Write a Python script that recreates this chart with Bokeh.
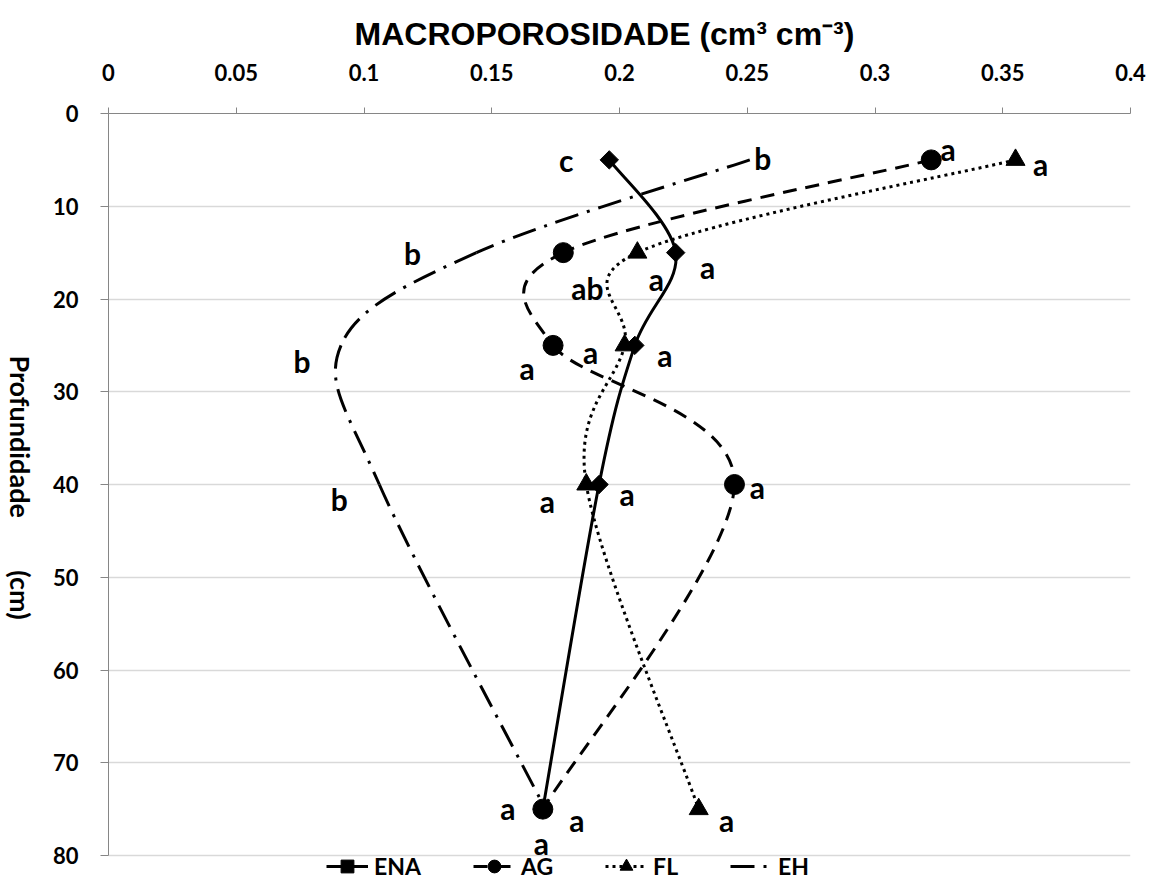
import numpy as np
from bokeh.plotting import figure
from bokeh.layouts import row
from bokeh.models import Range1d, FixedTicker, Legend, LegendItem, ColumnDataSource, Label
from bokeh.core.properties import value
from bokeh.embed import file_html
from bokeh.resources import INLINE

# ---- data ----
depth = [5, 15, 25, 40, 75]
ENA = [0.196, 0.222, 0.206, 0.192, 0.170]
AG = [0.322, 0.178, 0.174, 0.245, 0.170]
FL = [0.355, 0.207, 0.202, 0.187, 0.231]
EH = [0.251, 0.144, 0.091, 0.106, 0.171]

ENA_letters = ["c", "a", "a", "a", "a"]
AG_letters = ["a", "ab", "a", "a", "a"]
FL_letters = ["a", "a", "a", "a", "a"]
EH_letters = ["b", "b", "b", "b", "a"]

x_ticks = [0, 0.05, 0.1, 0.15, 0.2, 0.25, 0.3, 0.35, 0.4]
x_tick_labels = ["0", "0.05", "0.1", "0.15", "0.2", "0.25", "0.3", "0.35", "0.4"]
y_ticks = [0, 10, 20, 30, 40, 50, 60, 70, 80]
y_max = 80

title_text = "MACROPOROSIDADE (cm\u00b3 cm\u207b\u00b3)"
ylabel_text = "Profundidade\u00a0\u00a0\u00a0\u00a0\u00a0\u00a0\u00a0\u00a0(cm)"

# ---- layout / styles ----
FIG_H = 882
LAB_W = 38
MAIN_W = 1111
TOP = 113
LEGEND_PAD = 27  # px of frame kept below the 80 line for the legend
frame_h = FIG_H - TOP
y_start = y_max * frame_h / (frame_h - LEGEND_PAD)

label_offsets = {
    "ENA": [(-43, 0), (32, 14), (30, 10), (28, 9), (34, 11)],
    "AG": [(17, -11), (24, 35), (-26, 23), (23, 2), (-35, -1)],
    "FL": [(25, 4), (19, 26), (-34, 7), (-39, 16), (28, 11)],
    "EH": [(13, -2), (-64, 0), (-39, 16), (-40, 14), (-4, 34)],
}

p = figure(width=MAIN_W, height=FIG_H, output_backend="svg", toolbar_location=None,
           x_range=Range1d(0, 0.4), y_range=Range1d(y_start, 0),
           x_axis_location="above",
           min_border_left=70, min_border_right=19, min_border_top=TOP,
           min_border_bottom=0)
p.outline_line_color = None
p.background_fill_color = "white"

p.title.text = title_text
p.title.text_font = "Liberation Sans"
p.title.text_font_style = "bold"
p.title.text_font_size = "32px"
p.title.text_color = "black"
p.title.align = "left"
p.title.offset = 246
p.title.standoff = 17

for ax in [p.xaxis[0], p.yaxis[0]]:
    ax.axis_line_color = "#868686"
    ax.major_tick_line_color = "#868686"
    ax.minor_tick_line_color = None
    ax.major_tick_in = 0
    ax.major_label_text_font = "Lato"
    ax.major_label_text_font_style = "bold"
    ax.major_label_text_font_size = "22px"
    ax.major_label_text_color = "black"

p.xaxis.ticker = FixedTicker(ticks=x_ticks)
p.xaxis.major_label_overrides = {t: l for t, l in zip(x_ticks, x_tick_labels)}
p.xaxis.major_tick_out = 6
p.xaxis.major_label_standoff = 27

p.yaxis.ticker = FixedTicker(ticks=y_ticks)
p.yaxis.bounds = (0, y_max)
p.yaxis.major_tick_out = 8
p.yaxis.major_label_standoff = 22

p.xgrid.visible = False
p.ygrid.ticker = FixedTicker(ticks=y_ticks)
p.ygrid.grid_line_color = "#d9d9d9"
p.ygrid.grid_line_width = 1.5


def smooth_segments(xs, ys):
    P = np.column_stack([xs, ys]).astype(float)
    n = len(P)
    ext = np.vstack([P[0], P, P[-1]])
    segs = dict(x0=[], y0=[], x1=[], y1=[], cx0=[], cy0=[], cx1=[], cy1=[])
    for i in range(n - 1):
        p0, p1, p2, p3 = ext[i], ext[i + 1], ext[i + 2], ext[i + 3]
        c0 = p1 + (p2 - p0) / 6.0
        c1 = p2 - (p3 - p1) / 6.0
        segs["x0"].append(p1[0]); segs["y0"].append(p1[1])
        segs["x1"].append(p2[0]); segs["y1"].append(p2[1])
        segs["cx0"].append(c0[0]); segs["cy0"].append(c0[1])
        segs["cx1"].append(c1[0]); segs["cy1"].append(c1[1])
    return ColumnDataSource(segs)


series = [
    ("ENA", ENA, ENA_letters, "solid", "square", 13, np.pi / 4),
    ("AG", AG, AG_letters, "14 9", "circle", 20, 0),
    ("FL", FL, FL_letters, "3 4", "triangle", 19, 0),
    ("EH", EH, EH_letters, "24 9 3 9", None, 0, 0),
]

items = []
for name, vals, letters, dash, marker, msize, ang in series:
    src = smooth_segments(vals, depth)
    bz = p.bezier(x0="x0", y0="y0", x1="x1", y1="y1", cx0="cx0", cy0="cy0",
                  cx1="cx1", cy1="cy1", source=src, line_color="black",
                  line_width=3, line_dash=dash)
    rends = [bz]
    if marker is not None:
        sc = p.scatter(x=vals, y=depth, marker=marker, size=msize, angle=ang,
                       fill_color="black", line_color="black")
        rends.append(sc)
    items.append(LegendItem(label=name, renderers=rends, index=0))

for name, vals, letters, dash, marker, msize, ang in series:
    offs = label_offsets[name]
    lsrc = ColumnDataSource(dict(x=vals, y=depth, t=letters,
                                 xo=[o[0] for o in offs], yo=[o[1] for o in offs]))
    p.text(x="x", y="y", text="t", x_offset="xo", y_offset="yo", source=lsrc,
           text_font=value("Lato"), text_font_style="bold", text_font_size="30px",
           text_align="center", text_baseline="middle", text_color="black")

legend = Legend(items=items, orientation="horizontal", location=(218, 0),
                glyph_width=42, glyph_height=32, label_height=32,
                label_standoff=6, spacing=52,
                padding=0, margin=0, border_line_color=None,
                background_fill_alpha=0,
                label_text_font="Lato", label_text_font_style="bold",
                label_text_font_size="23px", label_text_color="black")
p.add_layout(legend, "center")

# left column holding the rotated y-axis title
lab = figure(width=LAB_W, height=FIG_H, output_backend="svg", toolbar_location=None,
             x_range=Range1d(0, 1), y_range=Range1d(0, 1),
             min_border_left=0, min_border_right=0, min_border_top=0,
             min_border_bottom=0)
lab.axis.visible = False
lab.grid.visible = False
lab.outline_line_color = None
lab.add_layout(Label(x=20, y=FIG_H - 487, x_units="screen", y_units="screen",
                     text=ylabel_text, angle=-np.pi / 2, angle_units="rad",
                     text_align="center", text_baseline="middle",
                     text_font="Lato", text_font_style="bold",
                     text_font_size="27px", text_color="black"))

layout = row(lab, p)
open("out.html", "w").write(file_html(layout, INLINE))
